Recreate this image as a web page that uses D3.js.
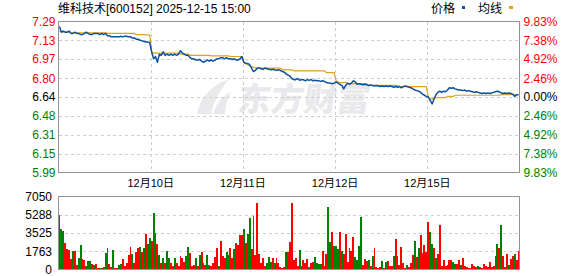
<!DOCTYPE html>
<html>
<head>
<meta charset="utf-8">
<script src="https://cdn.jsdelivr.net/npm/d3@7"></script>
<style>
body { margin: 0; background: #fff; }
svg { display: block; }
text { font-family: "Liberation Sans", "Noto Sans CJK SC", sans-serif; font-size: 12px; }
</style>
</head>
<body>
<svg width="578" height="276"></svg>
<script>
// chart data
var title = "维科技术[600152] 2025-12-15 15:00";
var dayLabels = ["12月9日", "12月10日", "12月11日", "12月12日", "12月15日"];
var preClose = 6.64;
var pctRange = 0.0983;
var priceTicks = ["7.29", "7.13", "6.97", "6.80", "6.64", "6.48", "6.31", "6.15", "5.99"];
var pctTicks = ["9.83%", "7.38%", "4.92%", "2.46%", "0.00%", "2.46%", "4.92%", "7.38%", "9.83%"];
var volTicks = [7050, 5288, 3525, 1763, 0];

// 5-minute price, one array per day
var price1 = [7.25,7.20,7.21,7.20,7.20,7.21,7.19,7.19,7.20,7.19, 7.19,7.18,7.18,7.19,7.20,7.19,7.18,7.18,7.19,7.19,
              7.19,7.18,7.19,7.18,7.19,7.17,7.17,7.16,7.16,7.16, 7.16,7.16,7.165,7.16,7.165,7.165,7.16,7.16,7.15,7.15,
              7.14,7.14,7.13,7.125,7.12,7.115,7.115,7.11];
var price2 = [7.03,6.97,6.99,6.94,7.01,7.00,7.03,7.00,7.01,7.00, 7.01,7.00,7.01,7.00,7.01,7.04,7.02,7.01,7.00,7.00,
              6.98,6.97,6.97,6.96,6.96,6.965,6.95,6.94,6.95,6.96, 6.95,6.96,6.95,6.96,6.97,6.97,6.98,6.98,6.97,6.98,
              6.97,6.97,6.965,6.97,6.96,6.96,6.97,6.99];
var price3 = [6.94,6.93,6.93,6.92,6.89,6.86,6.87,6.89,6.89,6.885, 6.88,6.89,6.885,6.88,6.875,6.88,6.875,6.87,6.875,6.87,
              6.86,6.855,6.84,6.83,6.82,6.80,6.79,6.79,6.80,6.785, 6.79,6.79,6.78,6.79,6.785,6.79,6.78,6.785,6.78,6.78,
              6.775,6.78,6.775,6.765,6.76,6.76,6.755,6.76];
var price4 = [6.77,6.76,6.75,6.74,6.71,6.74,6.76,6.75,6.76,6.78, 6.77,6.75,6.755,6.75,6.745,6.75,6.745,6.74,6.745,6.74,
              6.735,6.74,6.735,6.73,6.735,6.73,6.735,6.73,6.735,6.73, 6.725,6.73,6.725,6.73,6.72,6.73,6.735,6.73,6.725,6.72,
              6.71,6.70,6.695,6.69,6.68,6.665,6.655,6.645];
var price5 = [6.64,6.61,6.58,6.62,6.66,6.68,6.69,6.68,6.69,6.685, 6.70,6.72,6.715,6.72,6.71,6.705,6.70,6.70,6.695,6.70,
              6.69,6.695,6.69,6.685,6.68,6.685,6.68,6.675,6.67,6.675, 6.67,6.675,6.67,6.675,6.68,6.685,6.69,6.685,6.675,6.67,
              6.675,6.67,6.675,6.67,6.665,6.645,6.66,6.66];

// day average price
var avg1 = [7.21,7.205,7.20,7.20,7.20,7.20,7.195,7.195,7.195,7.195, 7.195,7.195,7.195,7.195,7.195,7.195,7.195,7.195,7.195,7.195,
            7.195,7.195,7.195,7.195,7.195,7.19,7.19,7.19,7.19,7.19, 7.19,7.19,7.19,7.19,7.19,7.19,7.19,7.19,7.19,7.19,
            7.18,7.18,7.18,7.18,7.18,7.18,7.175,7.175];
var avg2 = [7.03,7.02,7.02,7.02,7.02,7.02,7.02,7.02,7.02,7.02, 7.02,7.02,7.02,7.02,7.02,7.01,7.01,7.01,7.01,7.01,
            7.00,7.00,7.00,7.00,7.00,7.00,7.00,7.00,7.00,7.00, 7.00,6.995,6.995,6.995,6.995,6.995,6.995,6.995,6.995,6.995,
            6.995,6.99,6.99,6.99,6.99,6.99,6.99,6.99];
var avg3 = [6.94,6.93,6.92,6.91,6.90,6.90,6.89,6.89,6.89,6.89, 6.89,6.89,6.89,6.89,6.89,6.89,6.89,6.89,6.89,6.89,
            6.875,6.875,6.875,6.875,6.875,6.875,6.865,6.865,6.865,6.865, 6.865,6.865,6.865,6.865,6.865,6.865,6.865,6.865,6.865,6.865,
            6.865,6.865,6.865,6.85,6.85,6.85,6.85,6.85];
var avg4 = [6.78,6.77,6.765,6.765,6.765,6.765,6.755,6.755,6.755,6.755, 6.755,6.755,6.755,6.755,6.755,6.755,6.755,6.74,6.74,6.74,
            6.74,6.74,6.74,6.74,6.74,6.74,6.74,6.74,6.74,6.74, 6.74,6.74,6.74,6.73,6.73,6.73,6.73,6.73,6.73,6.73,
            6.73,6.73,6.73,6.73,6.73,6.73,6.73,6.73];
var avg5 = [6.64,6.625,6.62,6.635,6.635,6.635,6.635,6.635,6.635,6.635, 6.645,6.645,6.645,6.645,6.655,6.655,6.655,6.655,6.655,6.655,
            6.655,6.655,6.655,6.655,6.655,6.655,6.655,6.655,6.655,6.655, 6.655,6.655,6.655,6.655,6.655,6.655,6.655,6.655,6.66,6.66,
            6.66,6.66,6.66,6.66,6.66,6.66,6.66,6.66];

// 5-minute volume and bar colour (R up, G down)
var vol1 = [5300,3900,3700,2600,2000,1900,1000,1800,1800,400, 1100,2400,1000,900,300,800,800,500,400,500,
            100,100,100,200,1600,2100,500,200,1900,150, 100,400,500,1000,300,600,1400,2200,1500,600,
            1650,2050,2200,1700,2050,3450,2450,3050];
var vol2 = [2800,5500,3500,2500,1400,600,1100,600,1800,1100, 600,300,1100,600,300,1300,1100,750,1300,2200,
            1550,300,400,1100,300,1400,1650,600,400,1400, 400,350,600,1250,2100,300,2800,1300,1100,1650,
            1400,2100,1100,2000,2550,2400,3350,3300];
var vol3 = [3950,2550,3450,4950,2000,5200,1400,6450,1500,600, 1100,350,600,1250,750,1100,600,1150,600,250,
            150,250,1650,1700,2700,6400,900,1100,350,1900, 350,900,600,1000,250,650,750,1200,600,500,
            500,1800,350,1450,6050,2700,3650,2300];
var vol4 = [2300,1950,3650,1750,1450,3450,750,2100,1800,3100, 1250,900,2300,5050,400,1000,800,900,350,1300,
            2100,250,100,250,800,150,750,800,350,350, 1300,2900,1300,400,2200,650,150,400,250,650,
            1400,2800,1250,2100,3300,1550,2400,1700];
var vol5 = [4600,3650,2500,2050,1100,1450,4300,350,900,300, 400,900,900,750,500,500,900,400,1100,350,
            250,100,100,500,350,250,350,250,150,500, 350,250,750,250,300,1300,2500,2100,4300,1300,
            250,1450,400,1000,1300,1450,900,1800];
var dir1 = "GGGRRRRGRRGGRRGGGRGRRGRGGGRRGRRGGRRRRRGRRRGRGRGG";
var dir2 = "RGRRGRGRGGRRGRRRRRGGRRRGRGRRRGGRRRRGRRRGGRRGRRRR";
var dir3 = "GRGGRGRRRRRRGGGRGRRRRRGRRRRRRGRRRRGRRGGGGRRRGGRG";
var dir4 = "GGRGRRRRRRGGGGRRRGRGRRRRGRGRRRGRGRRRRGRRRGRGRRRR";
var dir5 = "RGGRGRRRRRGRRGGRRGRRRRRRRRGRRRRRRRRRGRGRRRGRRGRR";

var svg = d3.select("svg");

var L = 58.5, R = 519.5, pTop = 21.5, pBot = 172.5, vTop = 196.5, vBot = 269.5;

var prices = [].concat(price1, price2, price3, price4, price5);
var avgs = [].concat(avg1, avg2, avg3, avg4, avg5);
var vols = [].concat(vol1, vol2, vol3, vol4, vol5);
var dirs = (dir1 + dir2 + dir3 + dir4 + dir5).split("");
var perDay = price1.length;
var n = prices.length;

var x = d3.scaleLinear().domain([0, n]).range([L, R]);
var yP = d3.scaleLinear()
    .domain([preClose * (1 - pctRange), preClose * (1 + pctRange)])
    .range([pBot, pTop]);
var yV = d3.scaleLinear().domain([0, volTicks[0]]).range([vBot, vTop]);

var red = "#ff0000", green = "#008000", grid = "#cdcdcd";

// watermark
var wm = svg.append("g").attr("fill", "#e9e9ec");
wm.append("path")
    .attr("d", "M197,114 C200,98 210,86 229,79 C220,90 214,100 211,114 Z M213,114 C216,104 222,96 231,92 C227,100 225,107 225,114 Z");
wm.append("text")
    .attr("x", 238).attr("y", 111)
    .attr("transform", "skewX(-8) translate(14,0)")
    .style("font-family", "Noto Sans CJK SC")
    .style("font-size", "33px")
    .style("font-weight", "900")
    .text("东方财富");

// grid lines
var gridG = svg.append("g")
    .attr("stroke", grid)
    .attr("stroke-dasharray", "3,3")
    .attr("shape-rendering", "crispEdges");

gridG.selectAll(".hp")
    .data(priceTicks.slice(1, -1))
    .enter()
    .append("line")
    .attr("x1", L).attr("x2", R)
    .attr("y1", function (d) { return Math.round(yP(+d)) + 0.5; })
    .attr("y2", function (d) { return Math.round(yP(+d)) + 0.5; });

gridG.selectAll(".vp")
    .data(d3.range(1, dayLabels.length))
    .enter()
    .append("line")
    .attr("x1", function (d) { return Math.round(x(d * perDay)) + 0.5; })
    .attr("x2", function (d) { return Math.round(x(d * perDay)) + 0.5; })
    .attr("y1", pTop).attr("y2", pBot);

gridG.selectAll(".hv")
    .data(volTicks.slice(1, -1))
    .enter()
    .append("line")
    .attr("x1", L).attr("x2", R)
    .attr("y1", function (d) { return Math.round(yV(d)) + 0.5; })
    .attr("y2", function (d) { return Math.round(yV(d)) + 0.5; });

// volume bars
svg.append("g")
    .attr("shape-rendering", "crispEdges")
    .selectAll("rect")
    .data(vols)
    .enter()
    .append("rect")
    .attr("x", function (d, i) { return x(i); })
    .attr("width", function (d, i) { return x(i + 1) - x(i); })
    .attr("y", function (d) { return yV(d); })
    .attr("height", function (d) { return yV(0) - yV(d); })
    .attr("fill", function (d, i) { return dirs[i] === "R" ? red : green; });

// average line and price line
var line = d3.line()
    .x(function (d, i) { return x(i + 0.5); })
    .y(function (d) { return yP(d); });

svg.append("path")
    .datum(avgs)
    .attr("d", line)
    .attr("fill", "none")
    .attr("stroke", "#e0a21c")
    .attr("stroke-width", 1.2);

svg.append("path")
    .datum(prices)
    .attr("d", line)
    .attr("fill", "none")
    .attr("stroke", "#0b51a1")
    .attr("stroke-width", 1.5)
    .attr("stroke-linejoin", "round");

// panel borders
svg.append("rect")
    .attr("x", L).attr("y", pTop).attr("width", R - L).attr("height", pBot - pTop)
    .attr("fill", "none").attr("stroke", "#929292");
svg.append("rect")
    .attr("x", L).attr("y", vTop).attr("width", R - L).attr("height", vBot - vTop)
    .attr("fill", "none").attr("stroke", "#929292");

// axis labels
function tickColor(i) {
    return i < 4 ? red : (i === 4 ? "#000" : green);
}
svg.selectAll(".pl")
    .data(priceTicks)
    .enter()
    .append("text")
    .attr("x", 55.5)
    .attr("y", function (d) { return yP(+d); })
    .attr("dy", "0.36em")
    .attr("text-anchor", "end")
    .attr("fill", function (d, i) { return tickColor(i); })
    .text(function (d) { return d; });

svg.selectAll(".pr")
    .data(pctTicks)
    .enter()
    .append("text")
    .attr("x", 523.5)
    .attr("y", function (d, i) { return yP(+priceTicks[i]); })
    .attr("dy", "0.36em")
    .attr("fill", function (d, i) { return tickColor(i); })
    .text(function (d) { return d; });

svg.selectAll(".vl")
    .data(volTicks)
    .enter()
    .append("text")
    .attr("x", 52)
    .attr("y", function (d) { return yV(d); })
    .attr("dy", "0.36em")
    .attr("text-anchor", "end")
    .attr("fill", "#000")
    .text(function (d) { return d; });

svg.selectAll(".dl")
    .data(dayLabels.slice(1))
    .enter()
    .append("text")
    .attr("x", function (d, i) { return x((i + 1) * perDay); })
    .attr("y", 186.5)
    .attr("text-anchor", "middle")
    .style("font-size", "11px")
    .text(function (d) { return d; });

// title and legend
svg.append("text").attr("x", 58).attr("y", 13).text(title);
svg.append("text").attr("x", 431).attr("y", 13).text("价格");
svg.append("rect").attr("x", 462).attr("y", 6).attr("width", 3).attr("height", 3).attr("fill", "#0b51a1");
svg.append("text").attr("x", 478).attr("y", 13).text("均线");
svg.append("rect").attr("x", 509).attr("y", 6).attr("width", 4).attr("height", 3).attr("fill", "#e0a21c");
</script>
</body>
</html>
